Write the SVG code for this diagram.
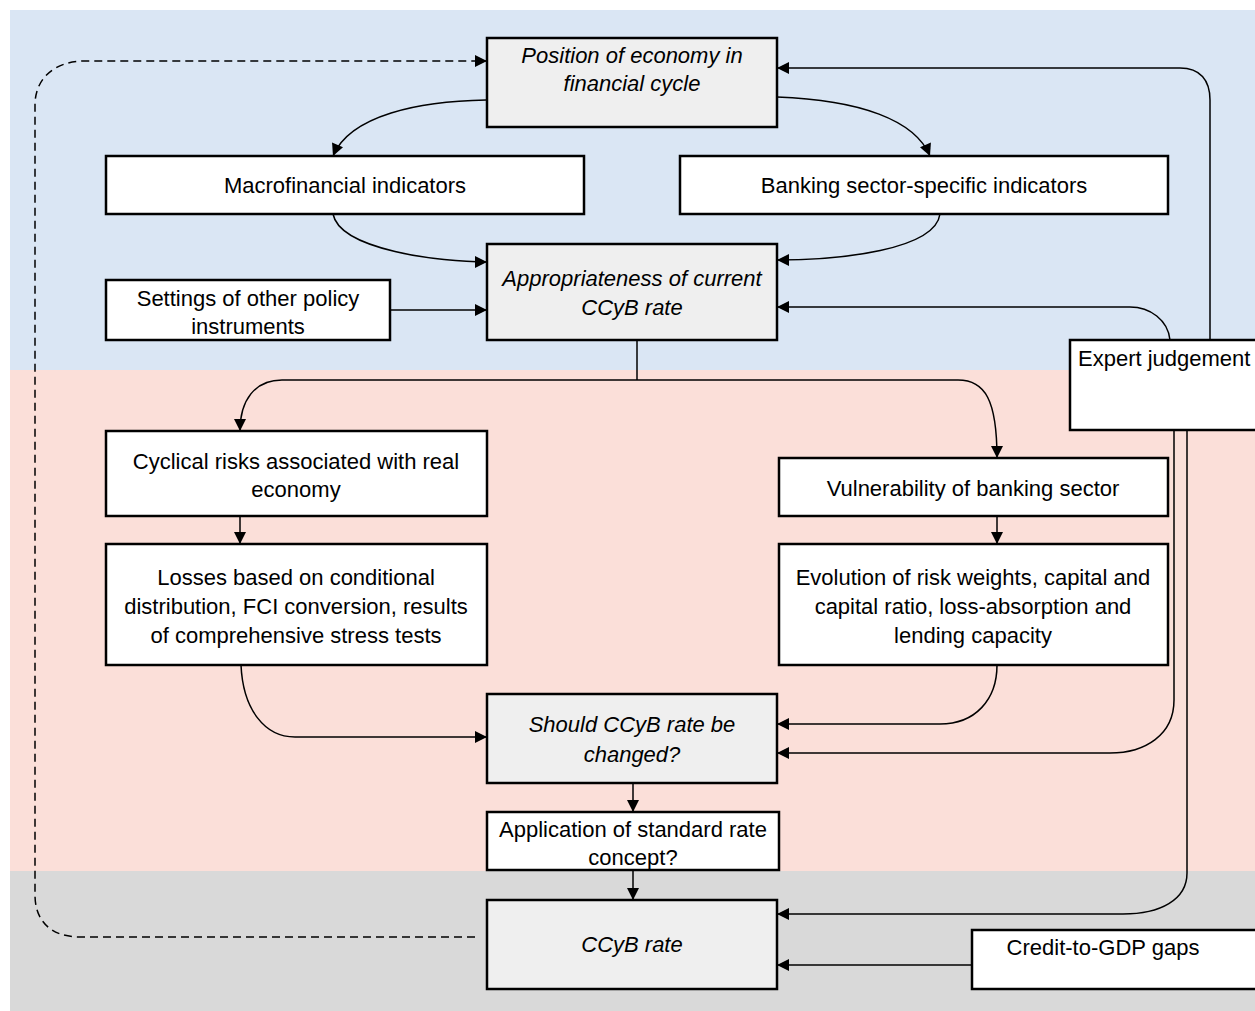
<svg xmlns="http://www.w3.org/2000/svg" width="1255" height="1011" viewBox="0 0 1255 1011">
<defs>
<marker id="ah" viewBox="0 0 10 10" refX="10" refY="5" markerWidth="15" markerHeight="12" markerUnits="userSpaceOnUse" orient="auto">
<path d="M0,0 L10,5 L0,10 z" fill="#000"/>
</marker>
<style>
.box{fill:#fff;stroke:#000;stroke-width:2.5}
.gbox{fill:#efefef;stroke:#000;stroke-width:2.5}
.c{fill:none;stroke:#000;stroke-width:1.5;marker-end:url(#ah)}
.d{fill:none;stroke:#000;stroke-width:1.5;stroke-dasharray:8,5;marker-end:url(#ah)}
.n{fill:none;stroke:#000;stroke-width:1.5}
text{font-family:"Liberation Sans",Arial,sans-serif;font-size:22px;fill:#000;text-anchor:middle}
.i{font-style:italic}
</style>
</defs>
<rect x="0" y="0" width="1255" height="1011" fill="#fff"/>
<g id="bands">
<rect x="10" y="10" width="1245" height="360" fill="#dae6f4"/>
<rect x="10" y="370" width="1245" height="501" fill="#fbdfd9"/>
<rect x="10" y="871" width="1245" height="140" fill="#d9d9d9"/>
</g>
<g id="connectors">
<path class="d" d="M475,937 H80 C50,937 35,920 35,895 V105 C35,78 55,61 85,61 H487"/>
<path class="c" d="M486,100 C420,101 350,115 333,156"/>
<path class="c" d="M777,97 C860,100 915,120 930,156"/>
<path class="c" d="M333,214 C340,250 440,262 487,262"/>
<path class="c" d="M940,214 C935,250 840,260 777,260"/>
<path class="c" d="M390,310 H487"/>
<path class="c" d="M1210,340 V100 C1210,80 1200,68 1180,68 H777"/>
<path class="c" d="M1170,340 C1168,320 1150,307 1130,307 H777"/>
<path class="n" d="M637,340 V380"/>
<path class="c" d="M637,380 H282 C255,380 240,400 240,431"/>
<path class="c" d="M637,380 H958 C985,380 997,400 997,458"/>
<path class="c" d="M240,516 V544"/>
<path class="c" d="M997,516 V544"/>
<path class="c" d="M241,665 C243,710 265,737 295,737 H487"/>
<path class="c" d="M997,665 C997,700 975,724 940,724 H777"/>
<path class="c" d="M1174,430 V700 C1174,735 1145,753 1110,753 H777"/>
<path class="c" d="M1187,430 V873 C1187,900 1160,914 1123,914 H777"/>
<path class="c" d="M633,783 V812"/>
<path class="c" d="M633,870 V900"/>
<path class="c" d="M972,965 H777"/>
</g>
<g id="n-position"><rect class="gbox" x="487" y="38" width="290" height="89"/><text class="i" x="632" y="63">Position of economy in</text><text class="i" x="632" y="91">financial cycle</text></g>
<g id="n-macro"><rect class="box" x="106" y="156" width="478" height="58"/><text x="345" y="193">Macrofinancial indicators</text></g>
<g id="n-banking"><rect class="box" x="680" y="156" width="488" height="58"/><text x="924" y="193">Banking sector-specific indicators</text></g>
<g id="n-appropriateness"><rect class="gbox" x="487" y="244" width="290" height="96"/><text class="i" x="632" y="286">Appropriateness of current</text><text class="i" x="632" y="315">CCyB rate</text></g>
<g id="n-settings"><rect class="box" x="106" y="280" width="284" height="60"/><text x="248" y="306">Settings of other policy</text><text x="248" y="334">instruments</text></g>
<g id="n-expert"><rect class="box" x="1070" y="340" width="195" height="90"/><text x="1078" y="366" style="text-anchor:start">Expert judgement</text></g>
<g id="n-cyclical"><rect class="box" x="106" y="431" width="381" height="85"/><text x="296" y="469">Cyclical risks associated with real</text><text x="296" y="497">economy</text></g>
<g id="n-vulnerability"><rect class="box" x="779" y="458" width="389" height="58"/><text x="973" y="496">Vulnerability of banking sector</text></g>
<g id="n-losses"><rect class="box" x="106" y="544" width="381" height="121"/><text x="296" y="585">Losses based on conditional</text><text x="296" y="614">distribution, FCI conversion, results</text><text x="296" y="643">of comprehensive stress tests</text></g>
<g id="n-evolution"><rect class="box" x="779" y="544" width="389" height="121"/><text x="973" y="585">Evolution of risk weights, capital and</text><text x="973" y="614">capital ratio, loss-absorption and</text><text x="973" y="643">lending capacity</text></g>
<g id="n-should"><rect class="gbox" x="487" y="694" width="290" height="89"/><text class="i" x="632" y="732">Should CCyB rate be</text><text class="i" x="632" y="762">changed?</text></g>
<g id="n-application"><rect class="box" x="487" y="812" width="292" height="58"/><text x="633" y="837">Application of standard rate</text><text x="633" y="865">concept?</text></g>
<g id="n-ccyb"><rect class="gbox" x="487" y="900" width="290" height="89"/><text class="i" x="632" y="952">CCyB rate</text></g>
<g id="n-credit"><rect class="box" x="972" y="930" width="295" height="59"/><text x="1103" y="955">Credit-to-GDP gaps</text></g>
</svg>
